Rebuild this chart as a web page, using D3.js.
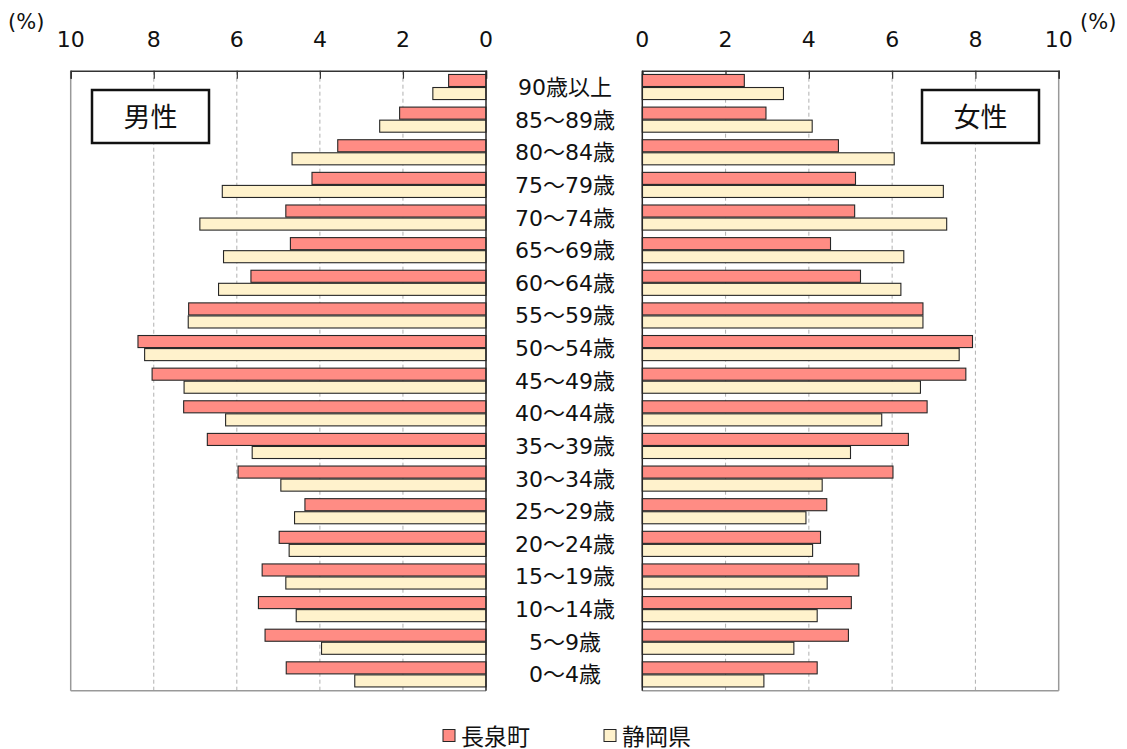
<!DOCTYPE html>
<html>
<head>
<meta charset="utf-8">
<script src="https://cdn.jsdelivr.net/npm/d3@7"></script>
<style>
  html, body { margin: 0; padding: 0; background: #fff; }
  svg { display: block; }
  text { font-family: "DejaVu Sans", "Noto Sans CJK JP", sans-serif; fill: #111; }
</style>
</head>
<body>
<svg id="chart" width="1127" height="749"></svg>
<script>
// Age groups, oldest first (top to bottom)
const ageGroups = ["90歳以上", "85～89歳", "80～84歳", "75～79歳", "70～74歳", "65～69歳",
  "60～64歳", "55～59歳", "50～54歳", "45～49歳", "40～44歳", "35～39歳", "30～34歳",
  "25～29歳", "20～24歳", "15～19歳", "10～14歳", "5～9歳", "0～4歳"];

// Share of population (%) by age group
const maleTown = [0.90, 2.08, 3.57, 4.19, 4.82, 4.71, 5.66, 7.16, 8.38, 8.04, 7.28, 6.71, 5.97,
  4.36, 4.98, 5.39, 5.48, 5.32, 4.81];
const malePref = [1.28, 2.56, 4.67, 6.35, 6.89, 6.32, 6.44, 7.17, 8.22, 7.27, 6.27, 5.63, 4.94,
  4.61, 4.74, 4.82, 4.57, 3.96, 3.16];
const femaleTown = [2.45, 2.97, 4.71, 5.12, 5.10, 4.52, 5.24, 6.74, 7.93, 7.77, 6.84, 6.39, 6.02,
  4.43, 4.28, 5.20, 5.02, 4.95, 4.20];
const femalePref = [3.39, 4.08, 6.05, 7.23, 7.31, 6.28, 6.21, 6.74, 7.61, 6.68, 5.75, 5.00, 4.32,
  3.93, 4.09, 4.44, 4.20, 3.64, 2.92];

const seriesNames = ["長泉町", "静岡県"];
const seriesColors = ["#FF8C84", "#FFF2CC"];
const tickValues = [0, 2, 4, 6, 8, 10];
const panelTitles = ["男性", "女性"];

const svg = d3.select("#chart");

const plotTop = 70.7, plotBottom = 690.7;
const y = d3.scaleBand().domain(ageGroups).range([plotTop, plotBottom]).paddingInner(0.2).paddingOuter(0.1);
const ySub = d3.scaleBand().domain([0, 1]).range([0, y.bandwidth()]).padding(0);

const xLeft = d3.scaleLinear().domain([0, 10]).range([486, 70.7]);
const xRight = d3.scaleLinear().domain([0, 10]).range([642.3, 1058.7]);

function drawPanel(x, town, pref, title, titleBox) {
  const [x0, x1] = x.range();
  const lo = Math.min(x0, x1), hi = Math.max(x0, x1);
  const g = svg.append("g");

  // dashed gridlines
  g.selectAll(".grid").data(tickValues.filter(v => v > 0 && v < 10)).join("line")
    .attr("x1", d => x(d)).attr("x2", d => x(d))
    .attr("y1", plotTop).attr("y2", plotBottom)
    .attr("stroke", "#b0b0b0").attr("stroke-width", 1).attr("stroke-dasharray", "4,3");

  // outer frame (light)
  g.append("line").attr("x1", x(10)).attr("x2", x(10)).attr("y1", plotTop).attr("y2", plotBottom)
    .attr("stroke", "#999").attr("stroke-width", 1.5);
  g.append("line").attr("x1", lo).attr("x2", hi).attr("y1", plotBottom).attr("y2", plotBottom)
    .attr("stroke", "#999").attr("stroke-width", 1.5);

  // top axis with inward ticks
  const axis = d3.axisTop(x).tickValues(tickValues).tickSize(-8).tickFormat("");
  const ax = g.append("g").attr("transform", `translate(0,${plotTop})`).call(axis);
  ax.select(".domain").attr("stroke", "#333").attr("stroke-width", 1.5);
  ax.selectAll(".tick line").attr("stroke", "#333").attr("stroke-width", 1.2);

  // tick labels
  g.selectAll(".tl").data(tickValues).join("text")
    .attr("x", d => x(d)).attr("y", 47)
    .attr("text-anchor", "middle").attr("font-size", 22)
    .text(d => d);

  // bars
  [town, pref].forEach((vals, si) => {
    g.selectAll(".bar" + si).data(vals).join("rect")
      .attr("x", d => Math.min(x(0), x(d)))
      .attr("width", d => Math.abs(x(d) - x(0)))
      .attr("y", (d, i) => y(ageGroups[i]) + ySub(si) + 0.5)
      .attr("height", ySub.bandwidth() - 1)
      .attr("fill", seriesColors[si])
      .attr("stroke", "#262626").attr("stroke-width", 1.1);
  });

  // zero axis line
  g.append("line").attr("x1", x(0)).attr("x2", x(0)).attr("y1", plotTop).attr("y2", plotBottom)
    .attr("stroke", "#262626").attr("stroke-width", 1.5);

  // panel title box
  g.append("rect").attr("x", titleBox[0]).attr("y", titleBox[1])
    .attr("width", titleBox[2]).attr("height", titleBox[3])
    .attr("fill", "#fff").attr("stroke", "#111").attr("stroke-width", 2.5);
  g.append("text").attr("x", titleBox[0] + titleBox[2] / 2).attr("y", titleBox[1] + titleBox[3] / 2 + 10)
    .attr("text-anchor", "middle").attr("font-size", 27).text(title);
}

drawPanel(xLeft, maleTown, malePref, panelTitles[0], [92, 90, 117, 53]);
drawPanel(xRight, femaleTown, femalePref, panelTitles[1], [922, 90, 117, 53]);

// percent unit labels
svg.append("text").attr("x", 8).attr("y", 29).attr("font-size", 21).text("(%)");
svg.append("text").attr("x", 1080).attr("y", 29).attr("font-size", 21).text("(%)");

// age group labels
svg.selectAll(".age").data(ageGroups).join("text")
  .attr("x", 565).attr("y", d => y(d) + y.bandwidth() / 2 + 8)
  .attr("text-anchor", "middle").attr("font-size", 22)
  .text(d => d);

// legend
const legendX = [443, 604];
seriesNames.forEach((name, i) => {
  svg.append("rect").attr("x", legendX[i]).attr("y", 729.5).attr("width", 12).attr("height", 12)
    .attr("fill", seriesColors[i]).attr("stroke", "#262626").attr("stroke-width", 1);
  svg.append("text").attr("x", legendX[i] + 18).attr("y", 745)
    .attr("font-size", 23).text(name);
});
</script>
</body>
</html>
